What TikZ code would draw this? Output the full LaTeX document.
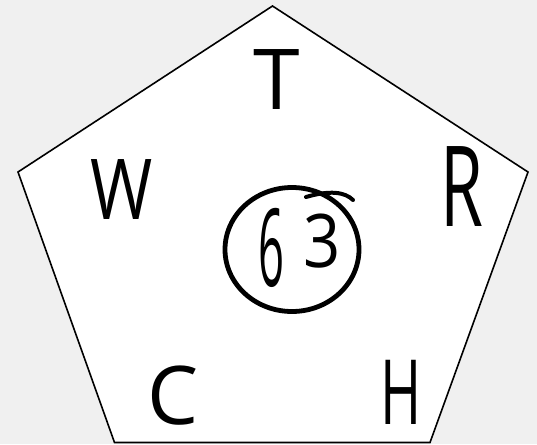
\documentclass[tikz,border=0pt]{standalone}
\usepackage{fontspec}
\setmainfont{Open Sans}
\definecolor{bg}{RGB}{240,240,240}
\tikzset{
  letter/.style={inner sep=0pt, text=black},
  pent/.style={draw=black, fill=white, line width=1.6pt, line join=miter},
  ring/.style={draw=black, line width=4.8pt}
}
\begin{document}
\begin{tikzpicture}[x=1pt,y=-1pt]
\fill[bg] (0,0) rectangle (537,444);
\useasboundingbox (0,0) rectangle (537,444);
\draw[pent] (272.5,6) -- (528,172) -- (430,442.5) -- (114.5,442.5) -- (18,172) -- cycle;
\node[letter, font=\fontsize{84}{84}\selectfont] (T) at (277,80) {T};
\node[letter, font=\fontsize{84}{84}\selectfont] (W) at (122,190) {\scalebox{0.8}[1]{W}};
\node[letter, font=\fontsize{112}{112}\selectfont] (R) at (462,187) {\scalebox{0.62}[1]{R}};
\node[letter, font=\fontsize{81}{81}\selectfont] (C) at (173,396) {C};
\node[letter, font=\fontsize{90}{90}\selectfont] (H) at (401,392) {\scalebox{0.62}[1]{H}};
\draw[ring] (292,249.5) ellipse [x radius=67, y radius=62];
\node[letter, font=\fontsize{108}{108}\selectfont] (six) at (271,248) {\scalebox{0.42}[1]{6}};
\node[letter, font=\fontsize{74}{74}\selectfont] (three) at (322,241) {\scalebox{0.88}[1]{3}};
\draw[line width=4pt, line cap=round] (306,197) .. controls (330,190) and (345,192) .. (353,200);
\end{tikzpicture}
\end{document}
